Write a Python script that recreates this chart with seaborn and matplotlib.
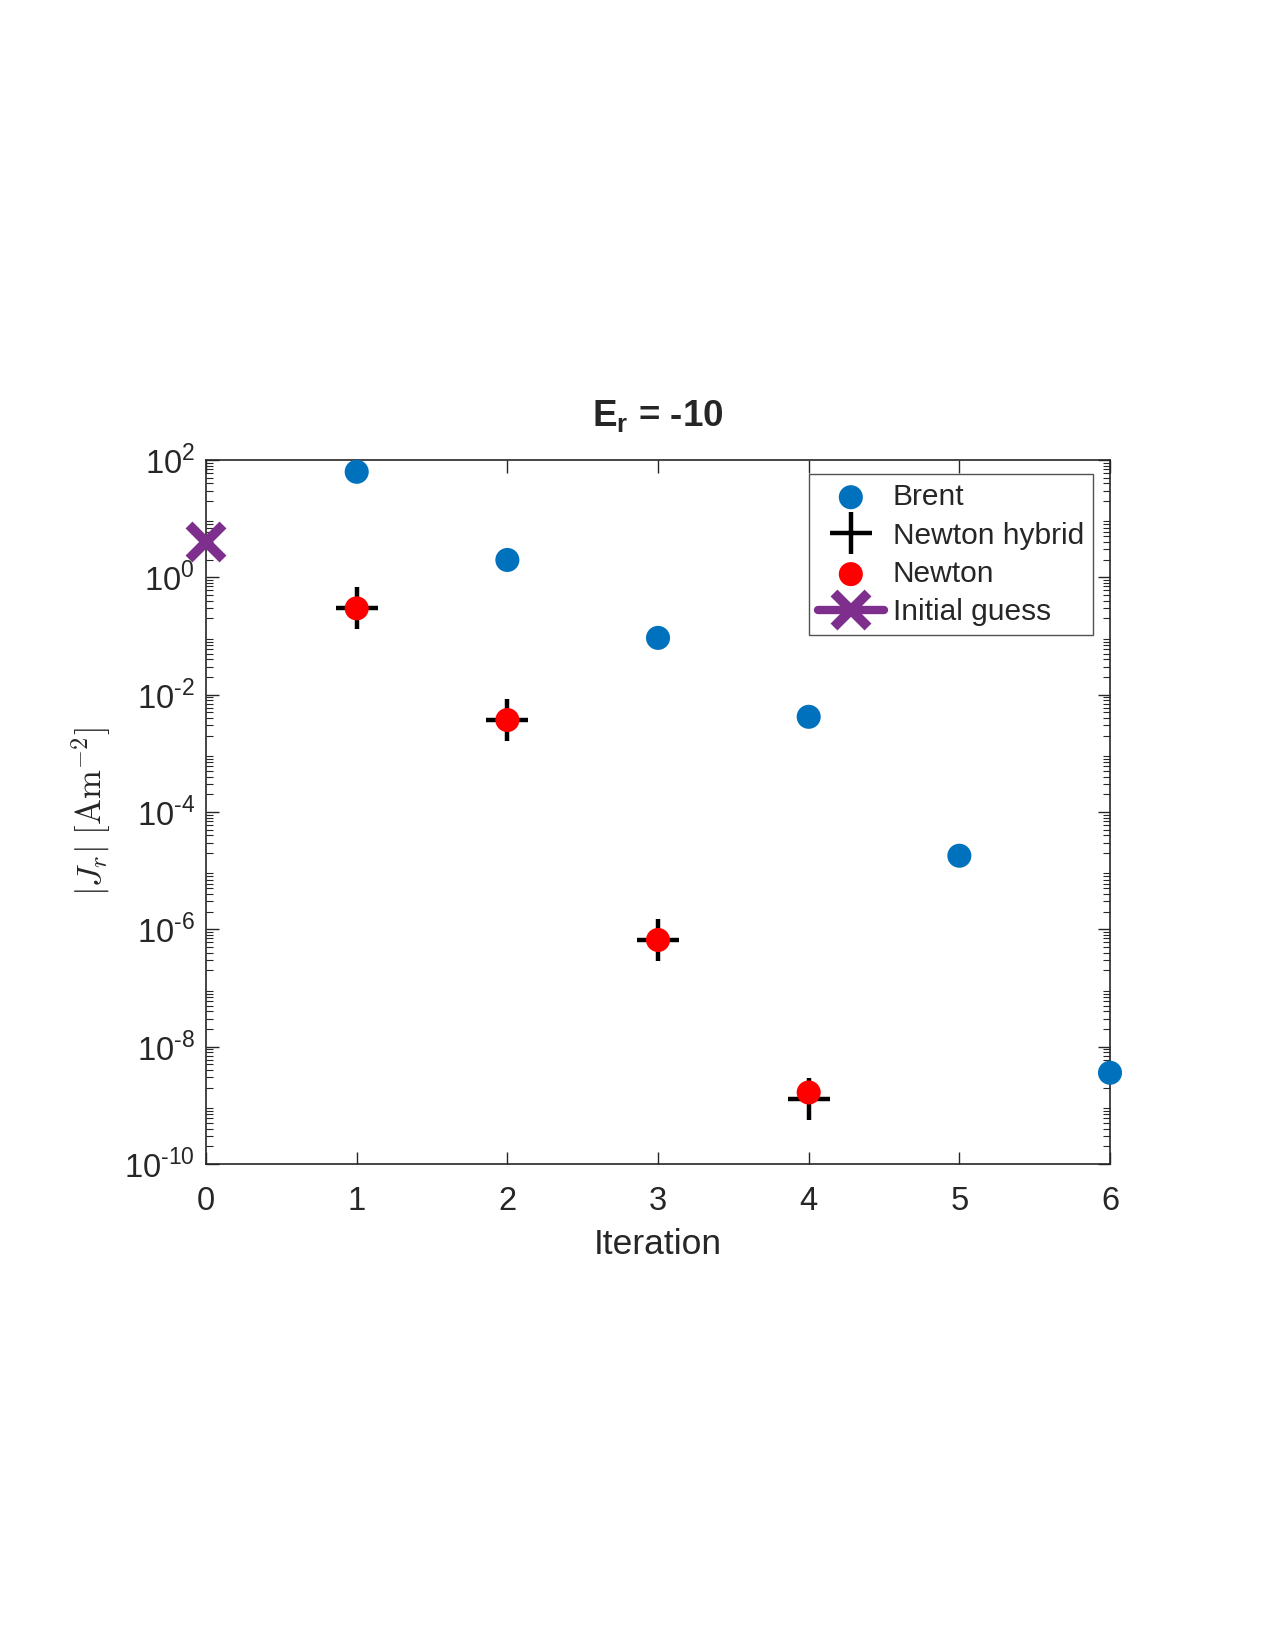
import numpy as np
import pandas as pd
import seaborn as sns
import matplotlib
matplotlib.use("Agg")
import matplotlib.pyplot as plt
from matplotlib.ticker import LogLocator, NullFormatter

# values
brent_iter = [1, 2, 3, 4, 5, 6]
brent_res = [63, 1.98, 0.093, 0.0042, 1.8e-5, 3.6e-9]
newton_iter = [1, 2, 3, 4]
newton_res = [0.296, 0.0037, 6.6e-7, 1.66e-9]
hybrid_iter = [1, 2, 3, 4]
hybrid_res = [0.296, 0.0037, 6.6e-7, 1.29e-9]
init_iter = [0]
init_res = [4.0]
ytick_exp = [-10, -8, -6, -4, -2, 0, 2]

sns.set_style("ticks")
plt.rcParams['font.family'] = ['Liberation Sans', 'DejaVu Sans']
plt.rcParams['mathtext.fontset'] = 'custom'
plt.rcParams['mathtext.rm'] = 'Liberation Sans'
plt.rcParams['mathtext.bf'] = 'Liberation Sans:bold'

brent = pd.DataFrame({'it': brent_iter, 'res': brent_res})
newton = pd.DataFrame({'it': newton_iter, 'res': newton_res})

fig = plt.figure(figsize=(12.75, 16.5), dpi=100)
ax = fig.add_axes([0.1616, 0.2945, 0.7090, 0.4267])

sns.scatterplot(data=brent, x='it', y='res', ax=ax, color='#0072BD', s=300,
                edgecolor='none', label='Brent', zorder=3, clip_on=False)
ax.plot(hybrid_iter, hybrid_res, linestyle='none', marker='+', color='black',
        markersize=30, markeredgewidth=3.2, label='Newton hybrid', zorder=4)
sns.scatterplot(data=newton, x='it', y='res', ax=ax, color='#FF0000', s=300,
                edgecolor='none', label='Newton', zorder=5)
ax.plot(init_iter, init_res, linestyle='-', linewidth=6, marker='x',
        color='#7E2F8E', markersize=24, markeredgewidth=7,
        label='Initial guess', zorder=6, clip_on=False)

ax.set_yscale('log')
ax.set_xlim(0, 6)
ax.set_ylim(1e-10, 1e2)
ax.set_xticks(range(7))
ax.set_yticks([10.0**k for k in ytick_exp])
ax.set_yticklabels([r'10$^{\text{%d}}$' % k for k in ytick_exp])
ax.yaxis.set_minor_locator(LogLocator(base=10, subs=np.arange(2, 10), numticks=100))
ax.yaxis.set_minor_formatter(NullFormatter())

ax.tick_params(axis='both', which='major', direction='in', length=9, width=1,
               labelsize=23.5, top=True, right=True, colors='#262626')
ax.tick_params(axis='x', which='major', pad=16)
ax.tick_params(axis='y', which='major', pad=8)
ax.tick_params(axis='y', which='minor', direction='in', length=5, width=0.8,
               right=True, left=True)
for sp in ax.spines.values():
    sp.set_visible(True)
    sp.set_linewidth(1.2)
    sp.set_color('#262626')

ax.set_xlabel('Iteration', fontsize=25.5, color='#262626', labelpad=8)
ax.set_ylabel(r'$|J_r|\ [\mathrm{Am}^{-2}]$', fontsize=25, color='#262626',
              math_fontfamily='cm', labelpad=8)
ax.set_title(r'E$_\mathbf{r}$ = -10', fontsize=26.5, fontweight='bold', pad=24)

leg = ax.legend(loc='upper right', bbox_to_anchor=(0.981, 0.98), borderaxespad=0,
                fontsize=21.5, frameon=True, fancybox=False, edgecolor='#262626',
                handlelength=2.2, handletextpad=0.3, labelspacing=0.35,
                borderpad=0.3)
leg.get_frame().set_linewidth(1.0)

fig.savefig('out.png', dpi=100, facecolor='white')
